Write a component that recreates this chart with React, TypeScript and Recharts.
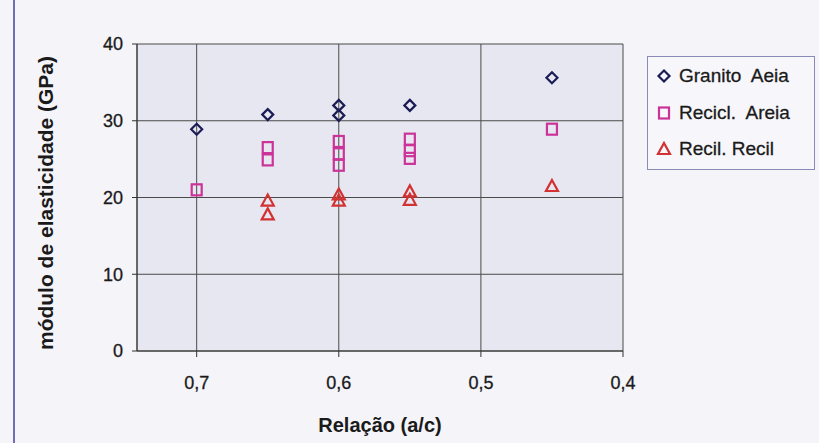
import { CartesianGrid, Label, Scatter, ScatterChart, XAxis, YAxis, ZAxis } from "recharts";

const seriesNames = ["Granito  Aeia", "Recicl.  Areia", "Recil. Recil"];
const seriesColors = ["#1c1c55", "#cc3399", "#d23232"];

const granitoX = [0.7, 0.65, 0.6, 0.6, 0.55, 0.45];
const granitoY = [28.9, 30.8, 32.0, 30.7, 32.0, 35.6];
const areiaX = [0.7, 0.65, 0.65, 0.6, 0.6, 0.6, 0.55, 0.55, 0.55, 0.45];
const areiaY = [21.0, 26.5, 24.9, 27.3, 25.7, 24.2, 27.6, 26.1, 25.1, 28.9];
const recilX = [0.65, 0.65, 0.6, 0.6, 0.55, 0.55, 0.45];
const recilY = [19.6, 17.8, 20.4, 19.6, 20.8, 19.7, 21.5];

const xTicks = [0.7, 0.6, 0.5, 0.4];
const yTicks = [0, 10, 20, 30, 40];

const toPoints = (xs: number[], ys: number[]) => xs.map((x, i) => ({ x, y: ys[i] }));

const font = "'Liberation Sans', Arial, sans-serif";

const Diamond = ({ cx, cy, color }: any) => (
  <polygon
    points={`${cx},${cy - 5.5} ${cx + 5.5},${cy} ${cx},${cy + 5.5} ${cx - 5.5},${cy}`}
    fill="none"
    stroke={color}
    strokeWidth={2.2}
  />
);
const Square = ({ cx, cy, color }: any) => (
  <rect x={cx - 5} y={cy - 5.5} width={10} height={11} fill="none" stroke={color} strokeWidth={2.2} />
);
const Triangle = ({ cx, cy, color }: any) => (
  <polygon
    points={`${cx},${cy - 6} ${cx + 6},${cy + 5} ${cx - 6},${cy + 5}`}
    fill="none"
    stroke={color}
    strokeWidth={2.2}
  />
);
const shapes = [Diamond, Square, Triangle];

export default function App() {
  const data = [toPoints(granitoX, granitoY), toPoints(areiaX, areiaY), toPoints(recilX, recilY)];
  return (
    <div style={{ position: "absolute", left: 0, top: 0, width: 819, height: 443, background: "#f4f4f9", fontFamily: font }}>
      <div style={{ position: "absolute", left: 13, top: 0, width: 2, height: 443, background: "#6f6fb5" }} />
      <ScatterChart width={819} height={443} margin={{ top: 44, right: 196, bottom: 62, left: 0 }}>
        <CartesianGrid fill="#e7e7f1" stroke="#4a4a4a" strokeOpacity={1} />
        <XAxis
          type="number"
          dataKey="x"
          domain={[0.4, 0.742]}
          reversed
          ticks={xTicks}
          height={30}
          allowDataOverflow
          tickSize={6}
          tickMargin={19}
          tickFormatter={(v: number) => v.toFixed(1).replace(".", ",")}
          tick={{ fill: "#1a1a1a", fontSize: 18, fontFamily: font, stroke: "#1a1a1a", strokeWidth: 0.3 }}
          stroke="#333"
        >
          <Label
            content={() => (
              <text x={380} y={425} textAnchor="middle" dominantBaseline="central" fontSize={20} fontWeight="bold" fill="#1a1a1a" fontFamily={font}>
                Relação (a/c)
              </text>
            )}
          />
        </XAxis>
        <YAxis
          type="number"
          dataKey="y"
          domain={[0, 40]}
          ticks={yTicks}
          width={137}
          tickSize={5}
          tickMargin={9}
          tick={{ fill: "#1a1a1a", fontSize: 18, fontFamily: font, stroke: "#1a1a1a", strokeWidth: 0.3 }}
          stroke="#333"
        >
          <Label
            content={() => (
              <text
                x={45}
                y={203}
                transform="rotate(-90 45 203)"
                textAnchor="middle"
                dominantBaseline="central"
                fontSize={21}
                fontWeight="bold"
                fill="#1a1a1a"
                fontFamily={font}
              >
                módulo de elasticidade (GPa)
              </text>
            )}
          />
        </YAxis>
        <ZAxis range={[80, 80]} />
        {data.map((pts, i) => {
          const Shape = shapes[i];
          return (
            <Scatter
              key={seriesNames[i]}
              name={seriesNames[i]}
              data={pts}
              isAnimationActive={false}
              shape={(p: any) => <Shape cx={p.cx} cy={p.cy} color={seriesColors[i]} />}
            />
          );
        })}
      </ScatterChart>
      <div
        style={{
          position: "absolute",
          left: 647,
          top: 56,
          width: 166,
          height: 112,
          border: "1px solid #8a8ab8",
          background: "#f6f6fb",
        }}
      >
        {seriesNames.map((name, i) => {
          const Shape = shapes[i];
          return (
            <div key={name} style={{ position: "absolute", left: 8, top: 9 + i * 36.5, height: 20, display: "flex", alignItems: "center" }}>
              <svg width={16} height={16} style={{ marginRight: 7 }}>
                <Shape cx={8} cy={8} color={seriesColors[i]} />
              </svg>
              <span style={{ fontSize: 19, color: "#1a1a1a", whiteSpace: "pre", WebkitTextStroke: "0.3px #1a1a1a" }}>{name}</span>
            </div>
          );
        })}
      </div>
    </div>
  );
}
